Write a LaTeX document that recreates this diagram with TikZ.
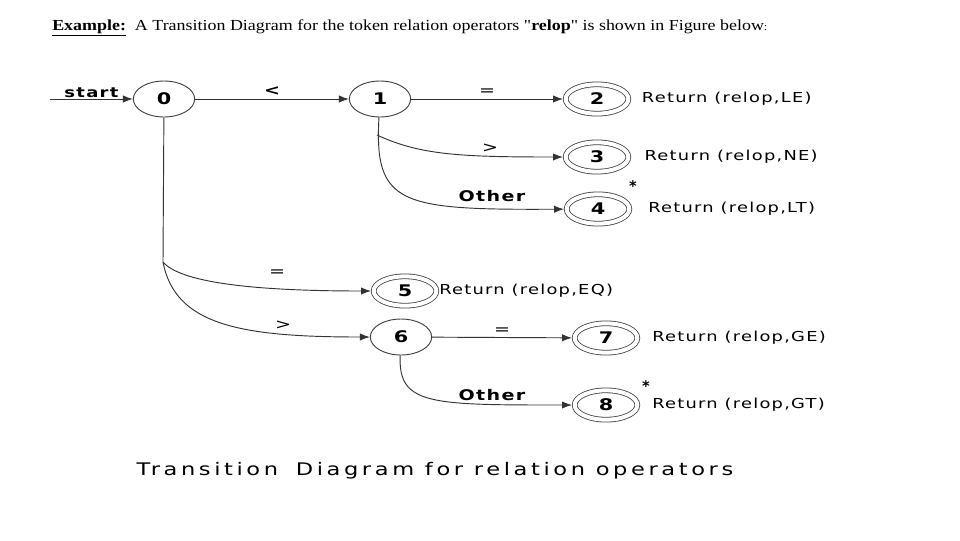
\documentclass[tikz,border=0pt]{standalone}
\usepackage{fontspec}
\setmainfont{Liberation Serif}
\newfontfamily\diagfont{DejaVu Sans}[LetterSpace=7]
\newfontfamily\capfont{DejaVu Sans}[LetterSpace=16]
\usetikzlibrary{shapes.geometric,arrows.meta,positioning}
\newcommand{\wtext}[1]{\scalebox{1.3}[1]{#1}}

\begin{document}
\begin{tikzpicture}[x=0.75pt,y=-0.75pt]
\tikzstyle{state} = [ellipse, draw=black!75, line width=0.7pt, minimum width=46pt, minimum height=27pt, inner sep=0pt, font=\diagfont\bfseries\fontsize{12}{12}\selectfont]
\tikzstyle{accept} = [ellipse, draw=black!75, line width=0.6pt, double, double distance=3pt, minimum width=47pt, minimum height=22pt, inner sep=0pt, outer sep=2pt, font=\diagfont\bfseries\fontsize{12}{12}\selectfont]
\tikzstyle{arrow} = [line width=0.7pt, draw=black!80, -{Latex[length=7.5pt,width=5.5pt]}]
\tikzstyle{ret} = [font=\diagfont\fontsize{10.3}{12}\selectfont, inner sep=0pt]
\tikzstyle{sym} = [font=\diagfont\fontsize{11}{12}\selectfont, inner sep=2pt]

\useasboundingbox (0,0) rectangle (960,540);

% heading
\node (head) [anchor=base west, inner sep=0pt, font=\fontsize{11.5}{13}\selectfont] at (52,30)
  {\scalebox{1.17}[1]{\textbf{\underline{Example:}}\ \ A Transition Diagram for the token relation operators \textquotedbl\textbf{relop}\textquotedbl\ is shown in Figure below{\footnotesize :}}};

% states
\node (s0) [state] at (164,99) {\wtext{0}};
\node (s1) [state] at (380,99) {\wtext{1}};
\node (s2) [accept] at (597,99) {\wtext{2}};
\node (s3) [accept] at (597,157) {\wtext{3}};
\node (s4) [accept] at (598,209) {\wtext{4}};
\node (s5) [accept] at (405,291) {\wtext{5}};
\node (s6) [state] at (401,337) {\wtext{6}};
\node (s7) [accept] at (606,338) {\wtext{7}};
\node (s8) [accept] at (606,405) {\wtext{8}};

% return actions
\node (r2) [ret, right=8pt of s2] {\wtext{Return (relop,LE)}};
\node (r3) [ret, right=10pt of s3] {\wtext{Return (relop,NE)}};
\node (r4) [ret, right=12pt of s4] {\wtext{Return (relop,LT)}};
\node (r5) [ret, right=0pt of s5] {\wtext{Return (relop,EQ)}};
\node (r7) [ret, right=9pt of s7] {\wtext{Return (relop,GE)}};
\node (r8) [ret, right=9pt of s8] {\wtext{Return (relop,GT)}};
\node (st4) [sym, font=\diagfont\bfseries\fontsize{11}{12}\selectfont] at (633,186) {*};
\node (st8) [sym, font=\diagfont\bfseries\fontsize{11}{12}\selectfont] at (646,386) {*};

% transitions
\coordinate (begin) at (50,99);
\coordinate (fork0) at (163,262);
\coordinate (fork1) at (377,135);
\draw [arrow] (begin) -- (s0) node [midway, above, sym, inner sep=1pt, font=\diagfont\bfseries\fontsize{10.4}{12}\selectfont] {\wtext{start}};
\draw [arrow] (s0) -- (s1) node [midway, above, sym, font=\diagfont\bfseries\fontsize{11}{12}\selectfont] {\wtext{<}};
\draw [arrow] (s1) -- (s2) node [midway, above, sym] {\wtext{=}};
\draw [arrow] (s1) .. controls (374,205) and (400,210) .. (s4);
\draw [arrow] (fork1) .. controls (420,155) and (460,157) .. (s3);
\draw [arrow] (s0) -- (fork0) .. controls (175,325) and (240,337) .. (s6);
\draw [arrow] (fork0) .. controls (180,282) and (250,291) .. (s5);
\draw [arrow] (s6) -- (s7) node [midway, above, sym] {\wtext{=}};
\draw [arrow] (s6) .. controls (398,405) and (430,405) .. (s8);

% labels on the curved transitions
\node (gt1) [sym] at (490,148) {\wtext{>}};
\node (ot1) [sym, font=\diagfont\bfseries\fontsize{11}{12}\selectfont] at (492,196) {\wtext{Other}};
\node (eq0) [sym] at (277,273) {\wtext{=}};
\node (gt0) [sym] at (283,325) {\wtext{>}};
\node (ot6) [sym, font=\diagfont\bfseries\fontsize{11}{12}\selectfont] at (492,395) {\wtext{Other}};

% caption
\node (cap) [anchor=base, inner sep=0pt, font=\capfont\fontsize{13}{15}\selectfont] at (435,475) {\wtext{Transition\hspace{4pt} Diagram for relation operators}};
\end{tikzpicture}
\end{document}
